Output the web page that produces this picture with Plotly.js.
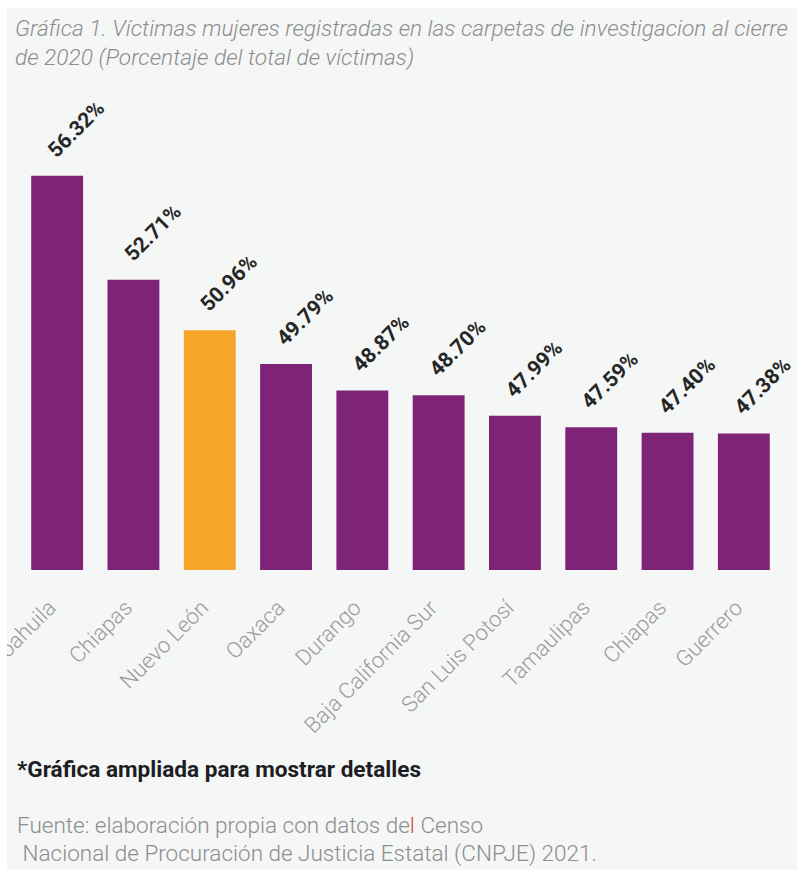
<!DOCTYPE html>
<html><head><meta charset="utf-8">
<script src="https://cdn.plot.ly/plotly-3.0.1.min.js"></script>
<style>
html,body{margin:0;padding:0;background:#ffffff;overflow:hidden;}
#chart{position:absolute;left:7px;top:8px;width:790px;height:862px;}
</style></head><body><div id="chart"></div>
<script>
// ---- data ----
const estados = ['Coahuila','Chiapas','Nuevo León','Oaxaca','Durango','Baja California Sur','San Luis Potosí','Tamaulipas','Chiapas','Guerrero'];
const porcentajes = [56.32, 52.71, 50.96, 49.79, 48.87, 48.70, 47.99, 47.59, 47.40, 47.38];
const destacado = 'Nuevo León';
const tituloLineas = ['Gráfica 1. Víctimas mujeres registradas en las carpetas de investigacion al cierre', 'de 2020 (Porcentaje del total de víctimas)'];
const nota = '*Gráfica ampliada para mostrar detalles';
const fuenteLineas = ['Fuente: elaboración propia con datos de<span style="color:#e2463f">l</span> Censo', ' Nacional de Procuración de Justicia Estatal (CNPJE) 2021.'];

// ---- layout constants ----
const W = 790, H = 862;
const M = {l: 12, r: 15, t: 92, b: 300};
const PW = W - M.l - M.r, PH = H - M.t - M.b;
const px = x => (x - M.l) / PW;
const py = y => (H - M.b - y) / PH;
const LABEL_DX = -0.1; // small leftward nudge of the rotated category labels

const PURPLE = '#7e2378', ORANGE = '#f6a62b';
const xs = estados.map((_, i) => i);
const colors = estados.map((e, i) => e === destacado && i === 2 ? ORANGE : PURPLE);

const trace = {
  type: 'bar',
  x: xs,
  y: porcentajes,
  marker: {color: colors, line: {width: 0}},
  hoverinfo: 'skip'
};

const annotations = [];
porcentajes.forEach((v, i) => {
  annotations.push({
    x: i, y: v, xref: 'x', yref: 'y',
    text: v.toFixed(2) + '%',
    showarrow: false, textangle: -45,
    xanchor: 'left', yanchor: 'bottom',
    xshift: -17, yshift: 11,
    font: {family: 'Roboto', size: 21, weight: 700, color: '#262626'}
  });
});
const textFont = {family: 'Roboto', size: 22.5, weight: 300, color: '#8d8d8d'};
tituloLineas.forEach((t, k) => {
  annotations.push({
    xref: 'paper', yref: 'paper', x: px(6), y: py(20 + 30 * k),
    xanchor: 'left', yanchor: 'middle', showarrow: false,
    text: t, font: Object.assign({}, textFont, {size: 22.7, style: 'italic'})
  });
});
annotations.push({
  xref: 'paper', yref: 'paper', x: px(8), y: py(761),
  xanchor: 'left', yanchor: 'middle', showarrow: false,
  text: nota,
  font: {family: 'Roboto', size: 22.6, weight: 700, color: '#1d1d24'}
});
fuenteLineas.forEach((t, k) => {
  annotations.push({
    xref: 'paper', yref: 'paper', x: px(8), y: py(817 + 28 * k),
    xanchor: 'left', yanchor: 'middle', showarrow: false,
    text: t, font: textFont
  });
});

const layout = {
  width: W, height: H,
  margin: M,
  paper_bgcolor: '#f5f6f6',
  plot_bgcolor: 'rgba(0,0,0,0)',
  showlegend: false,
  bargap: 0.32,
  xaxis: {
    range: [-0.5, estados.length - 0.5],
    tickmode: 'array', tickvals: xs.map(i => i + LABEL_DX), ticktext: estados,
    tickangle: -45,
    tickfont: {family: 'Roboto', size: 22, weight: 300, color: '#9b9b9b'},
    ticklabeloverflow: 'allow',
    ticks: 'outside', ticklen: 15, tickcolor: 'rgba(0,0,0,0)',
    showgrid: false, zeroline: false, showline: false, fixedrange: true
  },
  yaxis: {
    range: [42.64, 58.95], visible: false, showgrid: false, zeroline: false, fixedrange: true
  },
  annotations: annotations
};

Plotly.newPlot('chart', [trace], layout, {displayModeBar: false, staticPlot: true});
</script></body></html>
